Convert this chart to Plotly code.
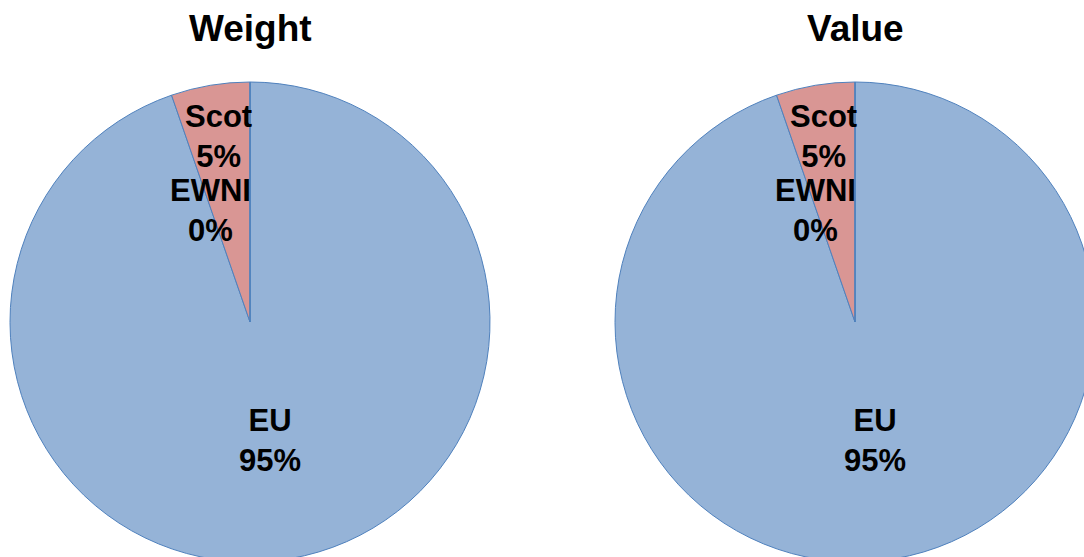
import plotly.graph_objects as go

# data
labels = ["EU", "Scot", "EWNI"]
weight = [94.7, 5.3, 0.0]
value = [94.7, 5.3, 0.0]
titles = ["Weight", "Value"]

colors = ["#95B3D7", "#D99694", "#C3D69B"]
line_col = "#4F81BD"
font = "Arial, Liberation Sans, sans-serif"

# canvas a bit bigger than the window so the pies are cut at the edges
W, H = 1100, 575
R = 240
centers = [(250, 322), (855, 322)]
# label offsets from pie centre (px)
offsets = {"EU": (20, 118), "Scot": (-32, -186), "EWNI": (-40, -112)}


def px(x, y):
    return x / W, 1 - y / H


fig = go.Figure()
annotations = []
for (cx, cy), vals, title in zip(centers, [weight, value], titles):
    x0, y0 = px(cx - R, cy + R)
    x1, y1 = px(cx + R, cy - R)
    fig.add_trace(go.Pie(
        labels=labels,
        values=vals,
        sort=False,
        direction="clockwise",
        rotation=0,
        marker=dict(colors=colors, line=dict(color=line_col, width=1)),
        textinfo="none",
        hoverinfo="label+percent",
        domain=dict(x=[x0, x1], y=[y0, y1]),
        showlegend=False,
    ))
    tx, ty = px(cx, 29)
    annotations.append(dict(x=tx, y=ty, xref="paper", yref="paper", text="<b>%s</b>" % title,
                            xanchor="center", yanchor="middle", showarrow=False,
                            font=dict(family=font, size=37, color="black")))
    total = sum(vals)
    for lab, v in zip(labels, vals):
        dx, dy = offsets[lab]
        ax, ay = px(cx + dx, cy + dy)
        annotations.append(dict(x=ax, y=ay, xref="paper", yref="paper",
                                text="<b>%s<br>%d%%</b>" % (lab, round(v / total * 100)),
                                xanchor="center", yanchor="middle",
                                showarrow=False, align="center",
                                font=dict(family=font, size=31, color="black")))

fig.update_layout(
    width=W, height=H,
    margin=dict(l=0, r=0, t=0, b=0),
    paper_bgcolor="white",
    annotations=annotations,
)

fig.write_html("out.html", config={"displayModeBar": False},
               post_script="document.body.style.margin='0';document.body.style.overflow='hidden';")
